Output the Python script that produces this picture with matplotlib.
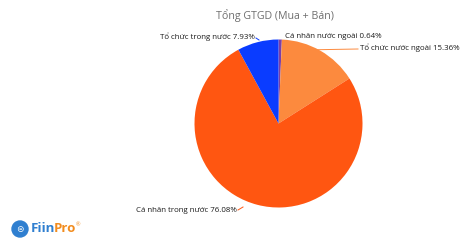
import matplotlib
matplotlib.use("Agg")
import matplotlib.pyplot as plt
import numpy as np
from matplotlib.patches import Circle

categories = ["Cá nhân nước ngoài", "Tổ chức nước ngoài", "Cá nhân trong nước", "Tổ chức trong nước"]
values = [0.64, 15.36, 76.08, 7.93]
colors = ["#7b3fa8", "#fc8a3e", "#ff5611", "#0a3cff"]
title = "Tổng GTGD (Mua + Bán)"

W, H = 462, 240
fig = plt.figure(figsize=(W / 100, H / 100), dpi=100)
ax = fig.add_axes([0, 0, 1, 1])

cx, cy, r = 278.5, H - 123.5, 84
wedges, _ = ax.pie(values, colors=colors, startangle=90, counterclock=False,
                   center=(cx, cy), radius=r, frame=True,
                   wedgeprops=dict(linewidth=0))
ax.set_xlim(0, W)
ax.set_ylim(0, H)
ax.set_aspect("equal")
ax.axis("off")

font = "Open Sans"
ax.text(275, H - 16, title, ha="center", va="center", fontsize=7.7, color="#6e6e6e", family=font)

labels = [f"{c} {v:.2f}%" for c, v in zip(categories, values)]
pos = [(285, H - 37, "left"), (360, H - 48, "left"), (237, H - 211, "right"), (255, H - 37, "right")]
for i, (w, lab) in enumerate(zip(wedges, labels)):
    x, y, ha = pos[i]
    ang = np.deg2rad((w.theta1 + w.theta2) / 2)
    px, py = cx + r * np.cos(ang), cy + r * np.sin(ang)
    ax.text(x, y, lab, ha=ha, va="center", fontsize=5.7, color="#1a1a1a", family=font)
    if i == 1:
        ax.plot([px - 3, x - 2], [py + 1, y - 1], color=colors[i], lw=0.7)
    elif i == 2:
        ax.plot([x + 1, x + 6], [y + 1, y + 4], color=colors[i], lw=0.7)
    elif i == 3:
        ax.plot([x + 1, x + 4], [y - 1, y - 3], color=colors[i], lw=0.7)

# logo
ax.add_patch(Circle((20, H - 229), 8, color="#2f7fd0"))
ax.text(20, H - 229, "⊜", ha="center", va="center", fontsize=6.5, color="white", family="DejaVu Sans")
ax.text(31, H - 229, "Fiin", ha="left", va="center", fontsize=9.5, color="#2f7fd0", weight="bold", family=font)
ax.text(53.5, H - 229, "Pro", ha="left", va="center", fontsize=9.5, color="#f28c1e", weight="bold", family=font)
ax.text(76, H - 225, "®", ha="left", va="center", fontsize=4, color="#f28c1e", family=font)

fig.savefig("out.png", dpi=100)
